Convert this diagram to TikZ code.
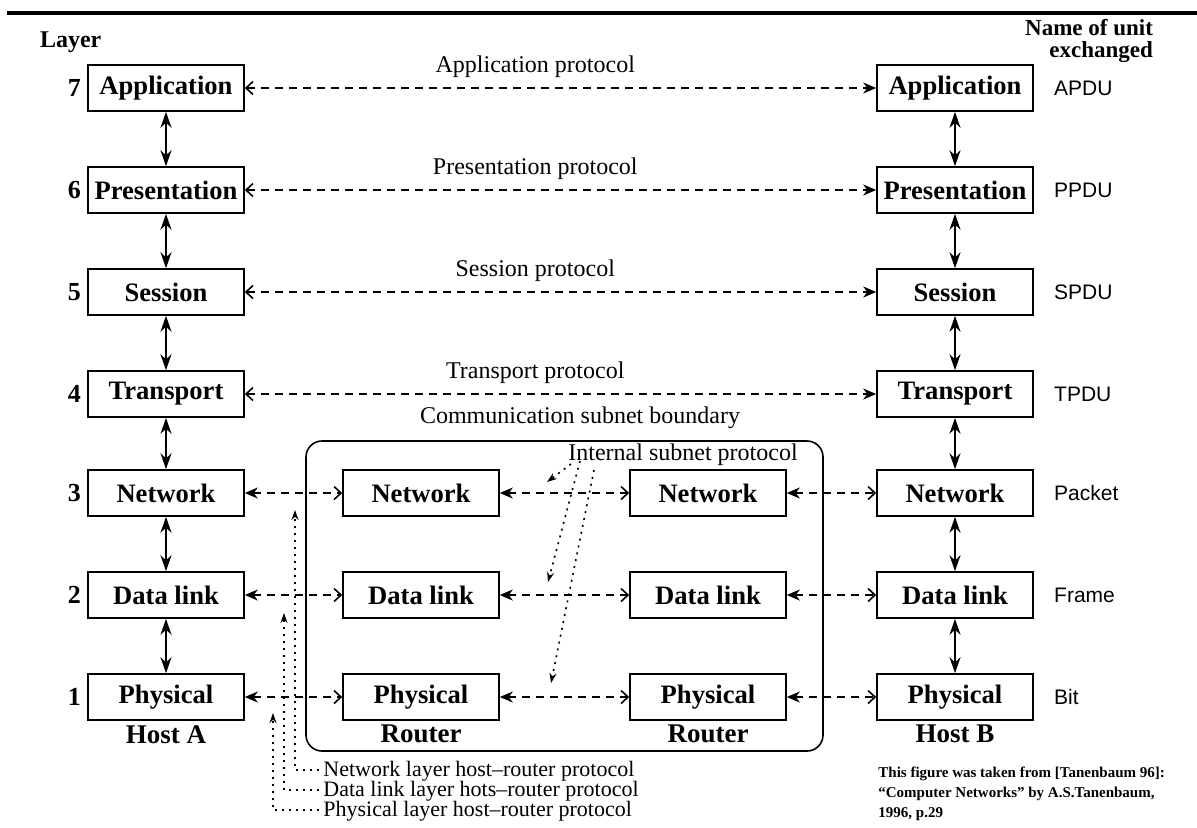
\documentclass[tikz,border=0pt]{standalone}
\usepackage{fontspec}
\setmainfont{Liberation Serif}
\newfontfamily\unitfont{Liberation Sans}
\usetikzlibrary{arrows.meta, positioning}
\tikzset{
  layer/.style  = {rectangle, draw=black, line width=0.8pt, minimum width=78pt,
                   minimum height=23pt, inner sep=2pt,
                   font=\fontsize{13.3}{15}\selectfont\bfseries},
  num/.style    = {font=\fontsize{13}{15}\selectfont\bfseries, inner sep=1pt},
  unit/.style   = {font=\unitfont\fontsize{10.5}{12}\selectfont, inner sep=1pt},
  host/.style   = {font=\fontsize{13.5}{15}\selectfont\bfseries, inner sep=1pt},
  stack/.style  = {line width=1pt, {Stealth[length=8pt,width=5.5pt]}-{Stealth[length=8pt,width=5.5pt]}},
  peer/.style   = {dash pattern=on 4pt off 3pt, line width=0.8pt,
                   {Straight Barb[length=3.5pt,width=6.5pt]}-{Stealth[length=6.5pt,width=5.5pt,inset=2pt]}},
  hop/.style    = {dash pattern=on 4pt off 3pt, line width=0.8pt,
                   {Stealth[length=6.5pt,width=5.5pt,inset=2pt]}-{Straight Barb[length=3.5pt,width=6.5pt]}},
  proto/.style  = {font=\fontsize{12}{14}\selectfont, inner sep=2pt},
  note/.style   = {font=\fontsize{12}{14}\selectfont, anchor=west, inner sep=0pt},
  small/.style  = {font=\fontsize{11}{12}\selectfont, anchor=west, inner sep=0pt,
                   text height=7.5pt, text depth=1.5pt},
  hint/.style   = {dash pattern=on 1pt off 2.5pt, line width=0.8pt,
                   -{Stealth[length=5pt,width=3.5pt]}},
}

\begin{document}
\begin{tikzpicture}[x=0.5pt, y=-0.5pt]
  \useasboundingbox (0,0) rectangle (1197,827);
  \draw[line width=1.6pt] (7,13) -- (1197,13);

  \node[font=\fontsize{12}{14}\selectfont\bfseries, anchor=west] (lay) at (33,42) {Layer};
  \node[font=\fontsize{11.5}{11}\selectfont\bfseries, align=right, anchor=east] (unitname) at (1160,41) {Name of unit\\exchanged};

  % host A
  \node[layer] (a7) at (166,88)  {Application};
  \node[layer] (a6) at (166,190) {Presentation};
  \node[layer] (a5) at (166,292) {Session};
  \node[layer] (a4) at (166,394) {Transport};
  \node[layer] (a3) at (166,493) {Network};
  \node[layer] (a2) at (166,595) {Data link};
  \node[layer] (a1) at (166,697) {Physical};
  \node[host, below=1pt of a1] (hosta) {Host A};

  \node[num, left=2pt of a7] (n7) {7};
  \node[num, left=2pt of a6] (n6) {6};
  \node[num, left=2pt of a5] (n5) {5};
  \node[num, left=2pt of a4] (n4) {4};
  \node[num, left=2pt of a3] (n3) {3};
  \node[num, left=2pt of a2] (n2) {2};
  \node[num, left=2pt of a1] (n1) {1};

  % host B
  \node[layer] (b7) at (955,88)  {Application};
  \node[layer] (b6) at (955,190) {Presentation};
  \node[layer] (b5) at (955,292) {Session};
  \node[layer] (b4) at (955,394) {Transport};
  \node[layer] (b3) at (955,493) {Network};
  \node[layer] (b2) at (955,595) {Data link};
  \node[layer] (b1) at (955,697) {Physical};
  \node[host, below=1pt of b1] (hostb) {Host B};

  \node[unit, right=9pt of b7] (u7) {APDU};
  \node[unit, right=9pt of b6] (u6) {PPDU};
  \node[unit, right=9pt of b5] (u5) {SPDU};
  \node[unit, right=9pt of b4] (u4) {TPDU};
  \node[unit, right=9pt of b3] (u3) {Packet};
  \node[unit, right=9pt of b2] (u2) {Frame};
  \node[unit, right=9pt of b1] (u1) {Bit};

  % subnet with the two routers
  \draw[line width=0.8pt, rounded corners=8pt] (306,441) rectangle (823,751);
  \node[proto] (cb) at (580,418) {Communication subnet boundary};

  \node[layer] (ra3) at (421,493) {Network};
  \node[layer] (ra2) at (421,595) {Data link};
  \node[layer] (ra1) at (421,697) {Physical};
  \node[host, below=1pt of ra1] (routera) {Router};

  \node[layer] (rb3) at (708,493) {Network};
  \node[layer] (rb2) at (708,595) {Data link};
  \node[layer] (rb1) at (708,697) {Physical};
  \node[host, below=1pt of rb1] (routerb) {Router};

  % inside the stacks
  \draw[stack] (a7) -- (a6);
  \draw[stack] (a6) -- (a5);
  \draw[stack] (a5) -- (a4);
  \draw[stack] (a4) -- (a3);
  \draw[stack] (a3) -- (a2);
  \draw[stack] (a2) -- (a1);
  \draw[stack] (b7) -- (b6);
  \draw[stack] (b6) -- (b5);
  \draw[stack] (b5) -- (b4);
  \draw[stack] (b4) -- (b3);
  \draw[stack] (b3) -- (b2);
  \draw[stack] (b2) -- (b1);

  % end to end protocols
  \draw[peer] (a7) -- node[proto, pos=0.46, above=3pt] (p7) {Application protocol} (b7);
  \draw[peer] (a6) -- node[proto, pos=0.46, above=3pt] (p6) {Presentation protocol} (b6);
  \draw[peer] (a5) -- node[proto, pos=0.46, above=3pt] (p5) {Session protocol} (b5);
  \draw[peer] (a4) -- node[proto, pos=0.46, above=3pt] (p4) {Transport protocol} (b4);

  % hop by hop
  \draw[hop] (a3) -- (ra3);
  \draw[hop] (ra3) -- (rb3);
  \draw[hop] (rb3) -- (b3);
  \draw[hop] (a2) -- (ra2);
  \draw[hop] (ra2) -- (rb2);
  \draw[hop] (rb2) -- (b2);
  \draw[hop] (a1) -- (ra1);
  \draw[hop] (ra1) -- (rb1);
  \draw[hop] (rb1) -- (b1);

  % internal subnet protocol
  \node[note] (isp) at (568,455) {Internal subnet protocol};
  \coordinate (s1) at (571,464);
  \coordinate (s2) at (580,461);
  \coordinate (s3) at (594,470);
  \coordinate (i1) at (547,482);
  \coordinate (i2) at (548,582);
  \coordinate (i3) at (551,683);
  \draw[hint] (s1) -- (i1);
  \draw[hint] (s2) -- (i2);
  \draw[hint] (s3) -- (i3);

  % host-router protocols
  \node[small] (nl) at (323,770) {Network layer host–router protocol};
  \node[small] (dl) at (323,790) {Data link layer hots–router protocol};
  \node[small] (pl) at (323,810) {Physical layer host–router protocol};
  \coordinate (t3) at (295,510);
  \coordinate (t2) at (284,613);
  \coordinate (t1) at (273,713);
  \draw[hint] ([xshift=-2pt]nl.west) -| (t3);
  \draw[hint] ([xshift=-2pt]dl.west) -| (t2);
  \draw[hint] ([xshift=-2pt]pl.west) -| (t1);

  \node[font=\fontsize{7.5}{10}\selectfont\bfseries, align=left, anchor=north west, inner sep=0pt] (src) at (878,767)
    {This figure was taken from [Tanenbaum 96]:\\``Computer Networks'' by A.S.Tanenbaum,\\1996, p.29};
\end{tikzpicture}
\end{document}
